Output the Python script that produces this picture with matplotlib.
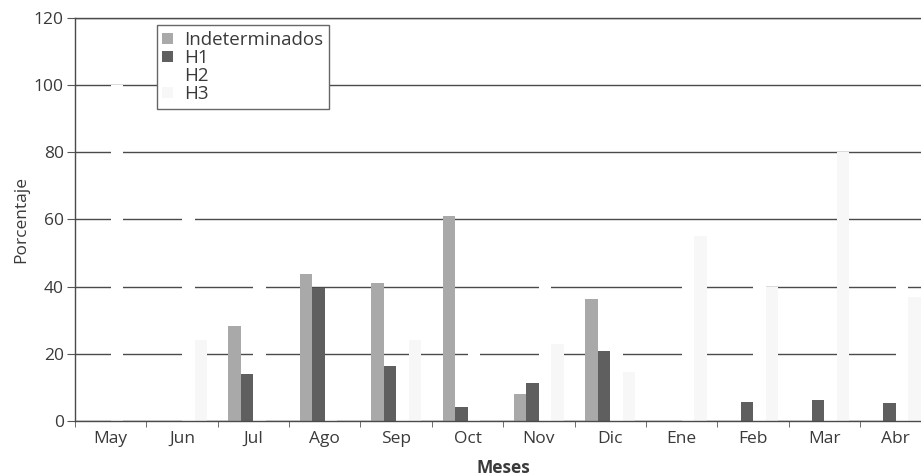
import matplotlib.pyplot as plt
import numpy as np

meses = ["May", "Jun", "Jul", "Ago", "Sep", "Oct", "Nov", "Dic", "Ene", "Feb", "Mar", "Abr"]
indeterminados = [0, 0, 28.3, 43.6, 41.2, 61, 7.9, 36.3, 0, 0, 0, 0]
h1 = [0, 0, 13.9, 39.6, 16.4, 4, 11.4, 20.7, 0, 5.5, 6.3, 5.4]
h2 = [100, 76, 57.8, 16.8, 18.4, 35, 57.7, 28.5, 45, 54.5, 13.7, 57.6]
h3 = [0, 24, 0, 0, 24, 0, 23, 14.5, 55, 40, 80, 37]
series = [("Indeterminados", indeterminados, "#a9a9a9"),
          ("H1", h1, "#5f5f5f"),
          ("H2", h2, "#ffffff"),
          ("H3", h3, "#f7f7f7")]

plt.rcParams['font.family'] = ['Open Sans', 'DejaVu Sans']
txt = "#3a3a3a"

fig = plt.figure(figsize=(9.21, 4.76), dpi=100)
ax = fig.add_axes([0.0814, 0.116, 0.93, 0.846])

x = np.arange(len(meses))
w = 0.175
for i, (name, vals, col) in enumerate(series):
    ax.bar(x + (i - 1.5) * w, vals, width=w, color=col, label=name, zorder=3,
           linewidth=0)

ax.set_xlim(-0.5, 11.5)
ax.set_ylim(0, 120)
ax.set_yticks(range(0, 121, 20))
ax.yaxis.grid(True, color="#4a4a4a", linewidth=1.0, zorder=1)
ax.set_axisbelow(True)

ax.set_xticks(x)
ax.set_xticklabels(meses)
ax.set_xticks(np.arange(-0.5, 12, 1), minor=True)
ax.tick_params(axis="x", which="major", length=0, pad=7, labelsize=12.5, labelcolor=txt)
ax.tick_params(axis="x", which="minor", length=4, color="#555555")
ax.tick_params(axis="y", length=6, color="#555555", labelsize=12.5, labelcolor=txt, pad=2)

ax.spines["right"].set_visible(False)
for s in ["left", "bottom", "top"]:
    ax.spines[s].set_color("#4a4a4a")
    ax.spines[s].set_linewidth(1.0)
    ax.spines[s].set_zorder(5)

ax.set_ylabel("Porcentaje", fontsize=12.5, color=txt, labelpad=3)
ax.set_xlabel("Meses", fontsize=12.5, color=txt, fontweight="bold", labelpad=9)

leg = ax.legend(loc="upper left", bbox_to_anchor=(0.0955, 0.982), fontsize=13.5,
                handlelength=0.55, handleheight=0.55, handletextpad=0.6,
                labelspacing=0.0, borderpad=0.3, borderaxespad=0,
                fancybox=False, edgecolor="#666666", framealpha=1)
leg.get_frame().set_linewidth(1.0)
leg.set_zorder(6)
for t in leg.get_texts():
    t.set_color(txt)

fig.savefig("out.png", dpi=100)
